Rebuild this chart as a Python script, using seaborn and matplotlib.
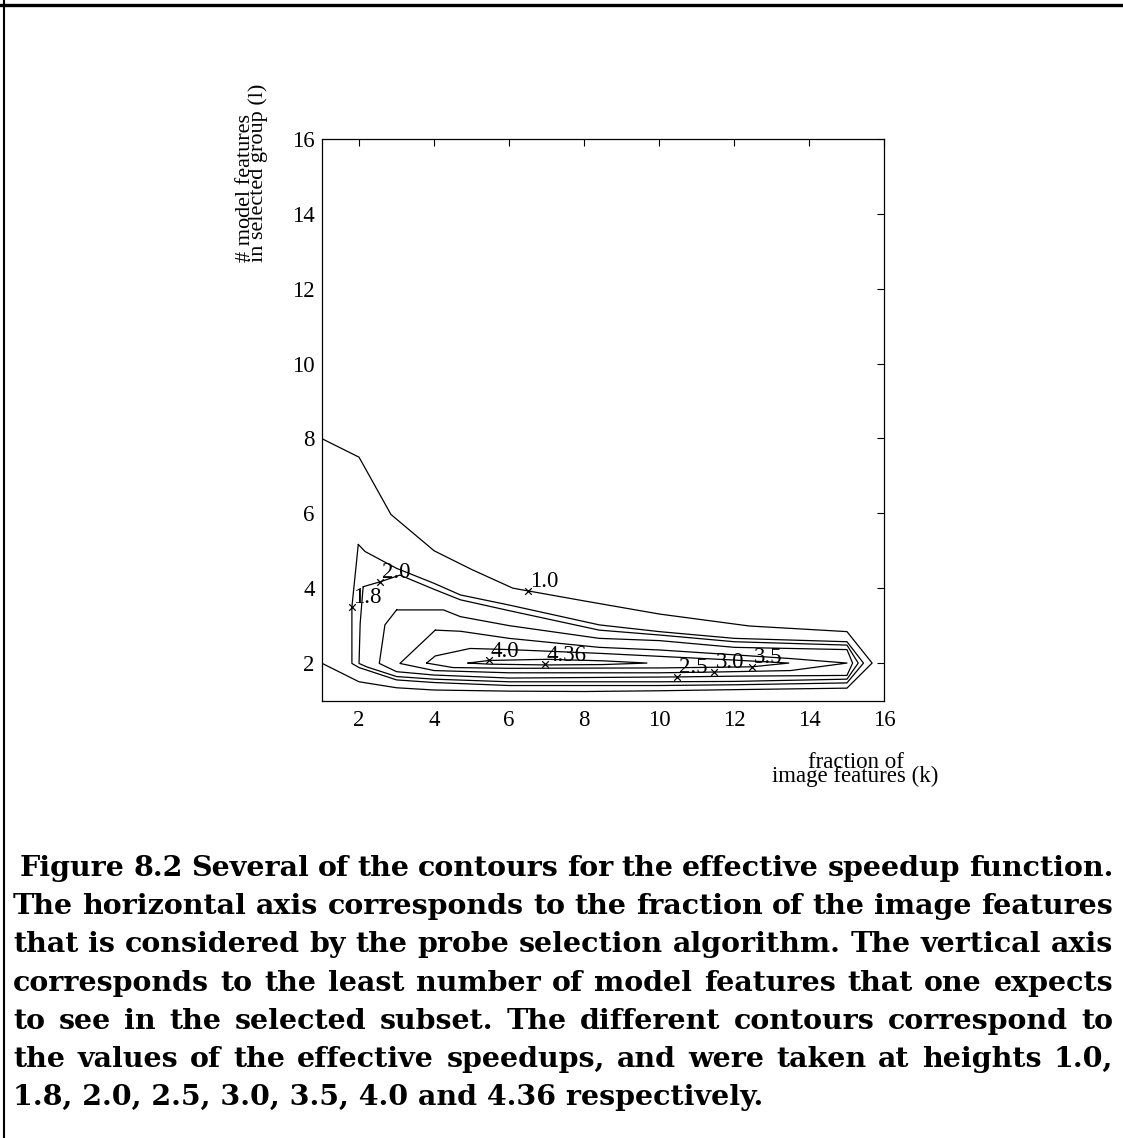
import numpy as np
import pandas as pd
import matplotlib
matplotlib.use("Agg")
import matplotlib.pyplot as plt
import seaborn as sns
from matplotlib.lines import Line2D

# ---------------- data ----------------
levels = ["1.0", "1.8", "2.0", "2.5", "3.0", "3.5", "4.0", "4.36"]

c10_x = [1.0, 2.0, 2.85, 4.0, 5.0, 6.1, 8.0, 10.0, 12.4, 15.0, 15.67, 15.0, 12.0, 10.0, 8.0, 6.0, 4.0, 3.0, 2.0, 1.0]
c10_y = [8.0, 7.5, 5.97, 5.0, 4.5, 4.0, 3.66, 3.31, 2.99, 2.84, 2.0, 1.33, 1.29, 1.26, 1.24, 1.25, 1.28, 1.34, 1.5, 2.0]

c18_x = [1.98, 2.16, 3.0, 4.0, 4.7, 6.0, 8.4, 10.0, 12.0, 15.0, 15.44, 15.0, 12.0, 10.0, 6.0, 4.0, 3.0, 2.0, 1.81, 1.81, 1.98]
c18_y = [5.17, 4.98, 4.53, 4.13, 3.82, 3.55, 3.02, 2.84, 2.66, 2.57, 2.0, 1.47, 1.42, 1.40, 1.40, 1.48, 1.55, 1.88, 1.99, 3.5, 5.17]

c20_x = [2.11, 2.56, 3.09, 4.0, 4.7, 6.0, 8.4, 10.0, 12.0, 15.0, 15.3, 15.0, 12.0, 10.0, 6.0, 4.0, 3.0, 2.2, 2.0, 2.03, 2.11]
c20_y = [4.04, 4.17, 4.35, 3.97, 3.69, 3.40, 2.88, 2.75, 2.57, 2.48, 2.0, 1.57, 1.51, 1.50, 1.50, 1.57, 1.64, 1.90, 1.99, 3.06, 4.04]

c25_x = [3.0, 4.25, 4.7, 6.0, 8.4, 10.0, 12.0, 15.0, 15.15, 15.0, 12.0, 10.5, 6.0, 4.0, 3.0, 2.54, 2.69, 3.0]
c25_y = [3.42, 3.42, 3.24, 3.0, 2.66, 2.60, 2.42, 2.36, 2.0, 1.67, 1.65, 1.63, 1.60, 1.68, 1.77, 1.99, 3.02, 3.42]

c30_x = [4.03, 4.7, 6.0, 8.4, 10.0, 12.0, 13.5, 15.0, 13.5, 11.45, 10.0, 6.0, 4.0, 3.09, 4.03]
c30_y = [2.88, 2.85, 2.66, 2.42, 2.35, 2.22, 2.12, 2.0, 1.80, 1.76, 1.74, 1.74, 1.80, 1.99, 2.88]

c35_x = [3.8, 4.03, 4.96, 6.0, 8.4, 10.0, 12.0, 13.45, 12.47, 10.0, 6.0, 4.5, 3.8]
c35_y = [2.0, 2.19, 2.39, 2.36, 2.26, 2.18, 2.08, 2.0, 1.90, 1.87, 1.86, 1.88, 2.0]

c40_x = [4.9, 5.47, 7.0, 8.5, 9.67, 8.5, 7.0, 5.5, 4.9]
c40_y = [2.0, 2.07, 2.10, 2.06, 2.0, 1.96, 1.95, 1.97, 2.0]

contours = {
    "1.0": (c10_x, c10_y), "1.8": (c18_x, c18_y), "2.0": (c20_x, c20_y),
    "2.5": (c25_x, c25_y), "3.0": (c30_x, c30_y), "3.5": (c35_x, c35_y),
    "4.0": (c40_x, c40_y),
}

# label markers ("x") for each level
mark_x = [6.5, 1.8, 2.56, 10.47, 11.45, 12.47, 5.47, 6.96]
mark_y = [3.93, 3.5, 4.17, 1.63, 1.76, 1.90, 2.07, 1.97]

tick_values = [2, 4, 6, 8, 10, 12, 14, 16]
x_label_lines = ["fraction of", "image features (k)"]
y_label_lines = ["# model features", "in selected group (l)"]
caption_lines = [
    "Figure 8.2  Several of the contours for the effective speedup function.",
    "The horizontal axis corresponds to the fraction of the image features",
    "that is considered by the probe selection algorithm. The vertical axis",
    "corresponds to the least number of model features that one expects",
    "to see in the selected subset.  The different contours correspond to",
    "the values of the effective speedups, and were taken at heights 1.0,",
    "1.8, 2.0, 2.5, 3.0, 3.5, 4.0 and 4.36 respectively.",
]

# ---------------- style ----------------
sns.set_theme(style="white")
plt.rcParams["font.family"] = ["Liberation Serif", "DejaVu Serif"]
plt.rcParams["axes.edgecolor"] = "black"
plt.rcParams["text.color"] = "black"

W, H = 1123, 1138
fig = plt.figure(figsize=(W / 100, H / 100), dpi=100)
fig.patch.set_facecolor("white")

def fx(px):
    return px / W

def fy(py):
    return 1 - py / H

ax = fig.add_axes([fx(321.5), fy(700.5), 563 / W, 561.5 / H])
ax.set_facecolor("white")

rows = []
for lev, (xs, ys) in contours.items():
    for i, (x, y) in enumerate(zip(xs, ys)):
        rows.append({"level": lev, "order": i, "x": x, "y": y})
df = pd.DataFrame(rows)

sns.lineplot(data=df, x="x", y="y", units="level", estimator=None, sort=False,
             color="black", linewidth=0.9, ax=ax, legend=False)

sns.scatterplot(x=mark_x, y=mark_y, marker="x", color="black", s=22,
                linewidth=0.9, ax=ax, legend=False, zorder=3)

for lev, mx, my in zip(levels, mark_x, mark_y):
    ax.annotate(lev, (mx, my), xytext=(1.2, 2.6), textcoords="offset points",
                ha="left", va="baseline", fontsize=16.5, color="black")

ax.set_xlim(1, 16)
ax.set_ylim(1, 16)
ax.set_xticks(tick_values)
ax.set_yticks(tick_values)
ax.set_xticklabels([str(v) for v in tick_values])
ax.set_yticklabels([str(v) for v in tick_values])
ax.set_xlabel("")
ax.set_ylabel("")
ax.tick_params(axis="both", direction="in", length=5, width=0.8, top=True, right=True,
               labelsize=16.5, colors="black")
ax.tick_params(axis="x", pad=7)
ax.tick_params(axis="y", pad=5)
for s in ax.spines.values():
    s.set_visible(True)
    s.set_color("black")
    s.set_linewidth(0.9)

# axis labels (placed like the original, tightly stacked lines)
fig.text(fx(855.5), fy(782), "\n".join(x_label_lines), ha="center", va="baseline",
         multialignment="center", linespacing=0.55, fontsize=16.5)
fig.text(fx(252), fy(262), "\n".join(y_label_lines), rotation=90, ha="center", va="bottom",
         multialignment="left", linespacing=0.55, fontsize=16)

# page frame
fig.add_artist(Line2D([0, 1], [fy(4.5), fy(4.5)], transform=fig.transFigure, color="black", linewidth=2.4))
fig.add_artist(Line2D([fx(3.5), fx(3.5)], [0, 1], transform=fig.transFigure, color="black", linewidth=1.5))

# caption, justified like the typeset original
cap_family = ["DejaVu Serif"]
renderer = fig.canvas.get_renderer()
probe = fig.text(0, 0, caption_lines[-1], fontsize=10, fontweight="bold", family=cap_family)
w10 = probe.get_window_extent(renderer).width
probe.remove()
cap_size = 10 * (765 - 13) / w10

left_px, right_px = 13, 1113
for i, line in enumerate(caption_lines):
    base = 876 + 38.2 * i
    if i == len(caption_lines) - 1:
        fig.text(fx(left_px), fy(base), line, fontsize=cap_size, fontweight="bold",
                 family=cap_family, ha="left", va="baseline")
        continue
    start = 20 if i == 0 else left_px
    words = line.split()
    widths = []
    for wd in words:
        t = fig.text(0, 0, wd, fontsize=cap_size, fontweight="bold", family=cap_family)
        widths.append(t.get_window_extent(renderer).width)
        t.remove()
    gap = (right_px - start - sum(widths)) / (len(words) - 1)
    x = start
    for wd, w in zip(words, widths):
        fig.text(fx(x), fy(base), wd, fontsize=cap_size, fontweight="bold",
                 family=cap_family, ha="left", va="baseline")
        x += w + gap

fig.savefig("out.png", dpi=100, facecolor="white")
